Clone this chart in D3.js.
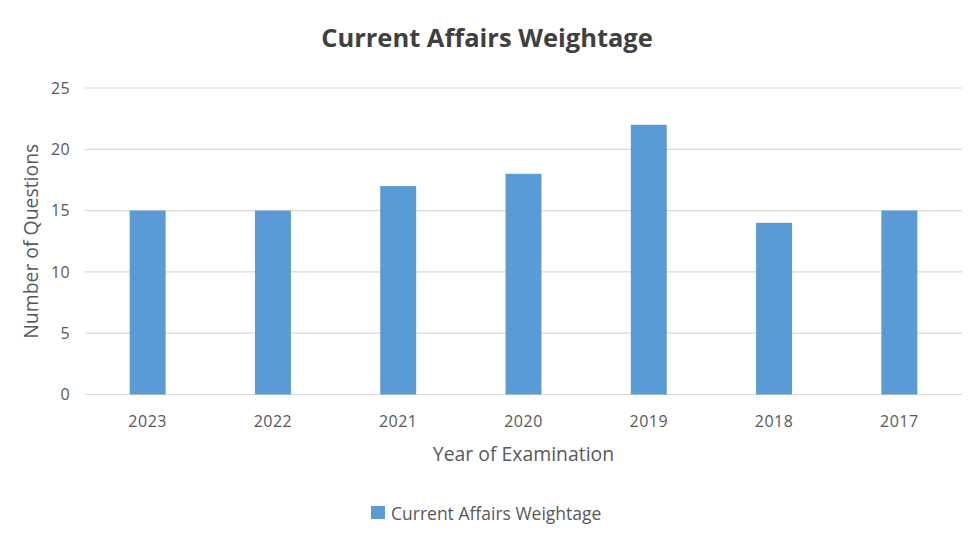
<!DOCTYPE html>
<html><head><meta charset="utf-8">
<script src="https://cdn.jsdelivr.net/npm/d3@7"></script>
<style>body{margin:0;background:#fff}svg{display:block}text{font-family:"Open Sans",sans-serif}</style>
</head><body>
<svg id="c" width="977" height="533"></svg>
<script>
const categories = ["2023","2022","2021","2020","2019","2018","2017"];
const values = [15,15,17,18,22,14,15];
const yTicks = [0,5,10,15,20,25];
const seriesName = "Current Affairs Weightage";

const svg = d3.select("#c");
const m = {l:85, r:15, t:88, b:138.5};
const W = 977, H = 533;
const x = d3.scaleBand().domain(categories).range([m.l, W-m.r]).paddingInner(0.713).paddingOuter(0.3565);
const y = d3.scaleLinear().domain([0,25]).range([H-m.b, m.t]);
const txt = "#595959";

svg.append("g").selectAll("line").data(yTicks).join("line")
  .attr("x1", m.l).attr("x2", W-m.r).attr("y1", d=>y(d)).attr("y2", d=>y(d))
  .attr("stroke", "#d9d9d9").attr("stroke-width", 1.2);

svg.append("g").selectAll("rect").data(values).join("rect")
  .attr("x", (d,i)=>x(categories[i])).attr("width", x.bandwidth())
  .attr("y", d=>y(d)).attr("height", d=>y(0)-y(d)).attr("fill", "#5b9bd5");

const ya = svg.append("g").attr("transform", `translate(${m.l},0)`)
  .call(d3.axisLeft(y).tickValues(yTicks).tickSize(0).tickPadding(14));
ya.select(".domain").remove();
ya.selectAll("text").attr("fill", txt).style("font-size","16px").attr("dx","-1").attr("letter-spacing","0.4px");

const xa = svg.append("g").attr("transform", `translate(0,${y(0)})`)
  .call(d3.axisBottom(x).tickSize(0).tickPadding(21));
xa.select(".domain").remove();
xa.selectAll("text").attr("fill", txt).style("font-size","16px").attr("letter-spacing","0.5px");

svg.append("text").attr("x", 487).attr("y", 47).attr("text-anchor","middle")
  .attr("fill","#404040").style("font-size","25.5px").style("font-weight","bold").text(seriesName);

svg.append("text").attr("x", (m.l+W-m.r)/2).attr("y", 461).attr("text-anchor","middle")
  .attr("fill", txt).style("font-size","19.4px").text("Year of Examination");

svg.append("text").attr("transform", `translate(38,${(y(0)+y(25))/2}) rotate(-90)`).attr("text-anchor","middle")
  .attr("fill", txt).style("font-size","19.4px").text("Number of Questions");

const lg = svg.append("g");
lg.append("rect").attr("x",371).attr("y",506).attr("width",14).attr("height",13).attr("fill","#5b9bd5");
lg.append("text").attr("x",391).attr("y",520).attr("fill",txt).style("font-size","17.5px").text(seriesName);
</script>
</body></html>
